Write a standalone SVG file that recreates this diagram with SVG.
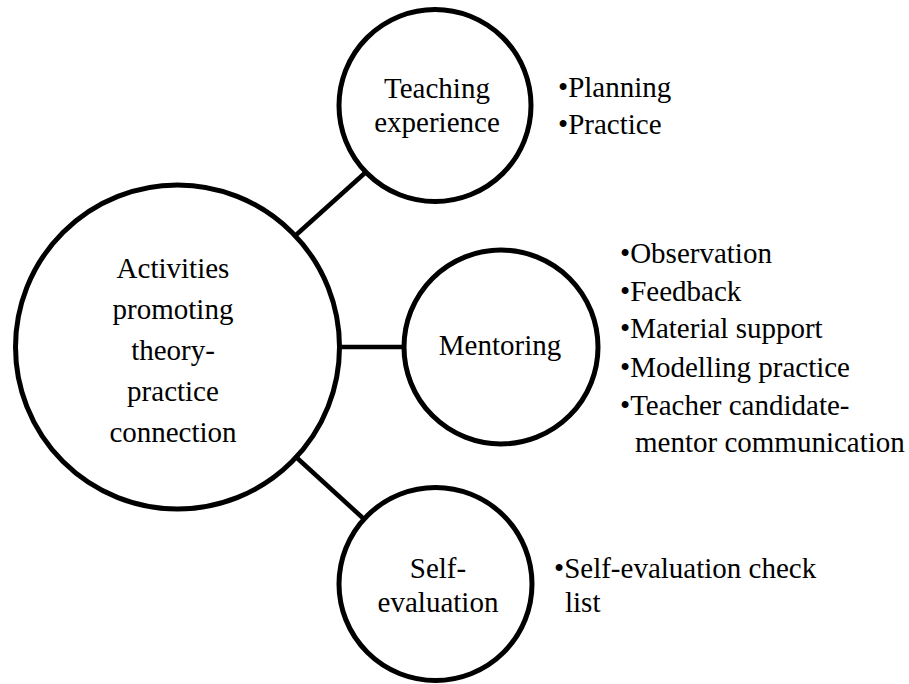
<svg xmlns="http://www.w3.org/2000/svg" width="909" height="684" viewBox="0 0 909 684">
  <style>
    .node { fill: #ffffff; stroke: #000000; stroke-width: 5; }
    .link { stroke: #000000; stroke-width: 4.5; fill: none; }
    text { font-family: "Liberation Serif", "Times New Roman", serif; font-size: 29px; fill: #000000; }
    .c { text-anchor: middle; }
  </style>
  <rect width="909" height="684" fill="#ffffff"/>

  <!-- connectors between the central node and its branches -->
  <g id="connectors">
    <line class="link" x1="296" y1="235" x2="366" y2="172"/>
    <line class="link" x1="338" y1="347" x2="404" y2="347"/>
    <line class="link" x1="296" y1="457" x2="365" y2="520"/>
  </g>

  <g id="central">
    <circle class="node" cx="177.5" cy="347" r="162"/>
    <text class="c" x="173" y="278">Activities</text>
    <text class="c" x="173" y="319">promoting</text>
    <text class="c" x="173" y="360">theory-</text>
    <text class="c" x="173" y="401">practice</text>
    <text class="c" x="173" y="442">connection</text>
  </g>

  <g id="teaching">
    <circle class="node" cx="435" cy="105.5" r="96"/>
    <text class="c" x="437" y="98">Teaching</text>
    <text class="c" x="437" y="132">experience</text>
  </g>

  <g id="teaching-items">
    <text x="558" y="97">•Planning</text>
    <text x="558" y="134">•Practice</text>
  </g>

  <g id="mentoring">
    <circle class="node" cx="501" cy="347" r="97"/>
    <text class="c" x="500" y="355">Mentoring</text>
  </g>

  <g id="mentoring-items">
    <text x="620" y="263">•Observation</text>
    <text x="620" y="301">•Feedback</text>
    <text x="620" y="338">•Material support</text>
    <text x="620" y="377">•Modelling practice</text>
    <text x="620" y="415">•Teacher candidate-</text>
    <text x="635" y="452">mentor communication</text>
  </g>

  <g id="self-evaluation">
    <circle class="node" cx="435.5" cy="584" r="96.5"/>
    <text class="c" x="438" y="578">Self-</text>
    <text class="c" x="438" y="612">evaluation</text>
  </g>

  <g id="self-evaluation-items">
    <text x="554" y="578">•Self-evaluation check</text>
    <text x="565" y="612">list</text>
  </g>
</svg>
